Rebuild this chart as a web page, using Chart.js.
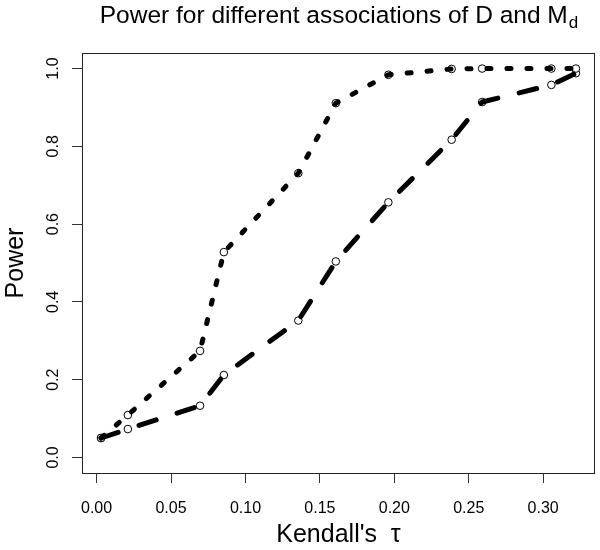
<!DOCTYPE html>
<html>
<head>
<meta charset="utf-8">
<script src="https://cdn.jsdelivr.net/npm/chart.js@4.4.1/dist/chart.umd.min.js"></script>
<style>
html,body{margin:0;padding:0;background:#fff;}
#wrap{width:600px;height:550px;}
</style>
</head>
<body>
<div id="wrap"><canvas id="c" width="600" height="550"></canvas></div>
<script>
// ---- data ----
const kendallTau   = [0.003, 0.021, 0.0695, 0.0855, 0.1355, 0.1607, 0.196, 0.2385, 0.259, 0.3055, 0.322];
const powerDotted  = [0.050, 0.109, 0.274, 0.528, 0.731, 0.911, 0.984, 0.999, 1.000, 1.000, 1.000];
const powerDashed  = [0.050, 0.073, 0.133, 0.212, 0.352, 0.504, 0.656, 0.817, 0.914, 0.958, 0.988];
const xTickValues  = [0, 0.05, 0.10, 0.15, 0.20, 0.25, 0.30];
const yTickValues  = [0, 0.2, 0.4, 0.6, 0.8, 1.0];
const titleMain    = "Power for different associations of D and M";
const titleSub     = "d";
const xLabel       = "Kendall's  \u03C4";
const yLabel       = "Power";

const FONT = "'Liberation Sans', Arial, Helvetica, sans-serif";
const toXY = (ys) => kendallTau.map((x, i) => ({x: x, y: ys[i]}));

const decorPlugin = {
  id: 'decor',
  afterDraw(chart) {
    const ctx = chart.ctx, a = chart.chartArea;
    const ys = chart.scales.y;
    ctx.save();
    // box
    ctx.strokeStyle = '#222';
    ctx.lineWidth = 1;
    ctx.strokeRect(Math.round(a.left) + 0.5, Math.round(a.top) + 0.5,
                   Math.round(a.right - a.left) - 1, Math.round(a.bottom - a.top));
    // y tick labels (rotated, R style)
    ctx.fillStyle = '#000';
    ctx.font = '16px ' + FONT;
    ctx.textAlign = 'center';
    ctx.textBaseline = 'alphabetic';
    yTickValues.forEach(v => {
      const py = ys.getPixelForValue(v);
      ctx.save();
      ctx.translate(58, py);
      ctx.rotate(-Math.PI / 2);
      ctx.fillText(v.toFixed(1), 0, 0);
      ctx.restore();
    });
    // y axis title
    ctx.font = '25px ' + FONT;
    ctx.save();
    ctx.translate(23, (a.top + a.bottom) / 2);
    ctx.rotate(-Math.PI / 2);
    ctx.fillText(yLabel, 0, 0);
    ctx.restore();
    // x axis title
    ctx.fillText(xLabel, (a.left + a.right) / 2, 542);
    // main title with subscript
    const cx = (a.left + a.right) / 2;
    ctx.font = '24.5px ' + FONT;
    const w1 = ctx.measureText(titleMain).width;
    ctx.font = '17px ' + FONT;
    const w2 = ctx.measureText(titleSub).width;
    const start = cx - (w1 + w2) / 2;
    ctx.textAlign = 'left';
    ctx.font = '24.5px ' + FONT;
    ctx.fillText(titleMain, start, 23);
    ctx.font = '17px ' + FONT;
    ctx.fillText(titleSub, start + w1 + 1, 28);
    ctx.restore();
  }
};

new Chart(document.getElementById('c'), {
  type: 'scatter',
  data: {
    datasets: [
      { label: 'dotted', data: toXY(powerDotted), showLine: true, order: 1,
        borderColor: '#000', borderWidth: 5, borderDash: [4, 16],
        borderCapStyle: 'round', borderJoinStyle: 'round', tension: 0,
        pointRadius: 0, fill: false },
      { label: 'dashed', data: toXY(powerDashed), showLine: true, order: 2,
        borderColor: '#000', borderWidth: 5, borderDash: [18, 22],
        borderCapStyle: 'round', borderJoinStyle: 'round', tension: 0,
        pointRadius: 0, fill: false },
      { label: 'pts1', data: toXY(powerDotted), showLine: false, order: 3,
        pointRadius: 3.8, pointBorderWidth: 1, pointBorderColor: '#000',
        pointBackgroundColor: '#fff' },
      { label: 'pts2', data: toXY(powerDashed), showLine: false, order: 4,
        pointRadius: 3.8, pointBorderWidth: 1, pointBorderColor: '#000',
        pointBackgroundColor: '#fff' }
    ]
  },
  options: {
    responsive: false,
    animation: false,
    devicePixelRatio: 1,
    layout: { padding: { top: 53, right: 3, left: 0, bottom: 0 } },
    plugins: { legend: { display: false }, tooltip: { enabled: false }, title: { display: false } },
    scales: {
      x: {
        type: 'linear', min: -0.0098, max: 0.3348,
        afterFit: s => { s.height = 77; },
        afterBuildTicks: s => { s.ticks = xTickValues.map(v => ({ value: v })); },
        grid: { display: true, drawOnChartArea: false, drawTicks: true, tickLength: 10, color: '#333' },
        border: { display: false },
        ticks: { font: { size: 16, family: FONT }, color: '#000', padding: 16, maxRotation: 0,
                 callback: v => Number(v).toFixed(2) }
      },
      y: {
        type: 'linear', min: -0.04, max: 1.04,
        afterFit: s => { s.width = 82; },
        afterBuildTicks: s => { s.ticks = yTickValues.map(v => ({ value: v })); },
        grid: { display: true, drawOnChartArea: false, drawTicks: true, tickLength: 10, color: '#333' },
        border: { display: false },
        ticks: { display: false }
      }
    }
  },
  plugins: [decorPlugin]
});
</script>
</body>
</html>
